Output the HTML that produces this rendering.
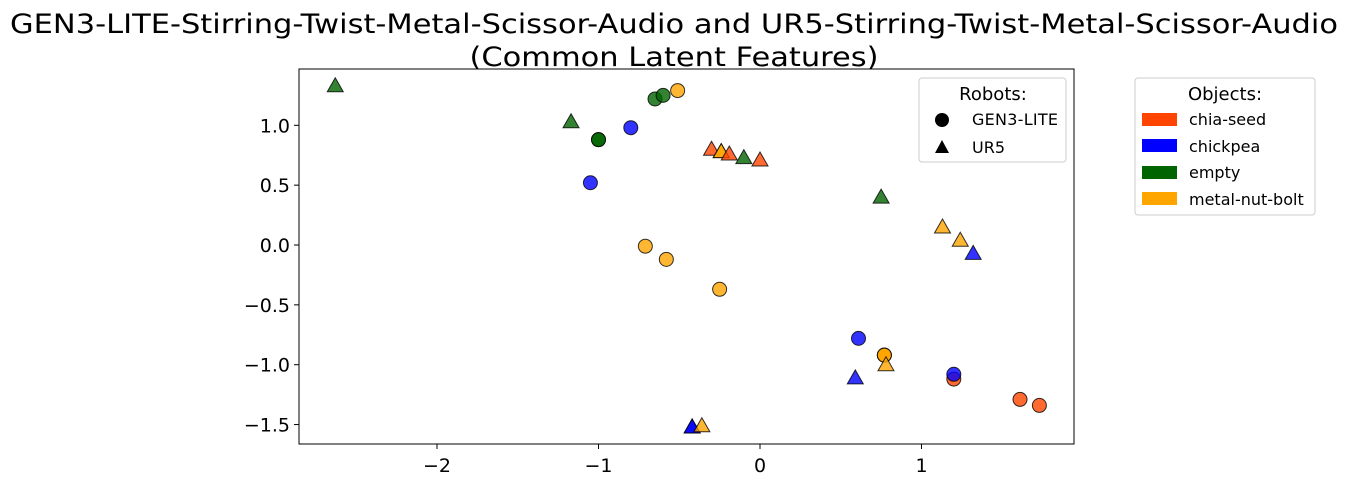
<!DOCTYPE html>
<html><head><meta charset="utf-8"><style>
body{margin:0;background:#fff;width:1348px;height:483px;overflow:hidden;font-family:"DejaVu Sans",sans-serif}
</style></head><body>
<svg width="1348" height="483" font-family="DejaVu Sans, sans-serif">
<text x="674" y="33" font-size="27" text-anchor="middle" textLength="1328" lengthAdjust="spacingAndGlyphs">GEN3-LITE-Stirring-Twist-Metal-Scissor-Audio and UR5-Stirring-Twist-Metal-Scissor-Audio</text>
<text x="674" y="66" font-size="27" text-anchor="middle" textLength="409" lengthAdjust="spacingAndGlyphs">(Common Latent Features)</text>
<g id="axes"></g>
<g id="marks"></g>
<rect x="299" y="69" width="775" height="375" fill="none" stroke="#000" stroke-width="1"/>
<g>
<rect x="919" y="78" width="147" height="84" fill="#fff" stroke="#ccc" rx="3"/>
<text x="993" y="100" font-size="18" text-anchor="middle">Robots:</text>
<circle cx="942" cy="120" r="7" fill="#000"/><text x="972" y="125" font-size="16" textLength="86">GEN3-LITE</text>
<polygon points="942,140 949,153 935,153" fill="#000"/><text x="972" y="153" font-size="16">UR5</text>
</g>
<g>
<rect x="1135" y="78" width="180" height="137" fill="#fff" stroke="#ccc" rx="3"/>
<text x="1225" y="100" font-size="18" text-anchor="middle">Objects:</text>
<rect x="1142" y="113" width="35" height="13" fill="#FF4500"/><text x="1189" y="125" font-size="16">chia-seed</text>
<rect x="1142" y="139" width="35" height="13" fill="#0000FF"/><text x="1189" y="152" font-size="16">chickpea</text>
<rect x="1142" y="166" width="35" height="13" fill="#006400"/><text x="1189" y="178" font-size="16">empty</text>
<rect x="1142" y="192" width="35" height="13" fill="#FFA500"/><text x="1189" y="205" font-size="16">metal-nut-bolt</text>
</g>
</svg>
<script>
const xTicks=[-2,-1,0,1];
const yTicks=[1.0,0.5,0.0,-0.5,-1.0,-1.5];
const yTickLabels=["1.0","0.5","0.0","−0.5","−1.0","−1.5"];
const colors={"chia-seed":"#FF4500","chickpea":"#0000FF","empty":"#006400","metal-nut-bolt":"#FFA500"};
const gen3X=[-0.65,-0.60,-1.0,-1.0,-0.51,-0.80,-1.05,-0.71,-0.58,-0.25,0.61,0.77,0.77,0.77,1.20,1.20,1.61,1.73];
const gen3Y=[1.22,1.25,0.88,0.88,1.29,0.98,0.52,-0.01,-0.12,-0.37,-0.78,-0.92,-0.92,-0.92,-1.12,-1.08,-1.29,-1.34];
const gen3Obj=["empty","empty","empty","empty","metal-nut-bolt","chickpea","chickpea","metal-nut-bolt","metal-nut-bolt","metal-nut-bolt","chickpea","metal-nut-bolt","metal-nut-bolt","metal-nut-bolt","chia-seed","chickpea","chia-seed","chia-seed"];
const ur5X=[-2.63,-1.17,-0.30,-0.24,-0.24,-0.19,-0.10,0.0,0.75,1.13,1.24,1.32,0.59,0.78,-0.42,-0.42,-0.36];
const ur5Y=[1.33,1.03,0.80,0.78,0.78,0.76,0.73,0.71,0.40,0.15,0.04,-0.07,-1.11,-1.00,-1.52,-1.52,-1.51];
const ur5Obj=["empty","empty","chia-seed","metal-nut-bolt","metal-nut-bolt","chia-seed","empty","chia-seed","empty","metal-nut-bolt","metal-nut-bolt","chickpea","chickpea","metal-nut-bolt","chickpea","chickpea","metal-nut-bolt"];
const X=v=>760+v*161.5, Y=v=>245-v*119.7;
const NS="http://www.w3.org/2000/svg";
const ax=document.getElementById('axes'), mk=document.getElementById('marks');
function mkEl(t,a,p){const e=document.createElementNS(NS,t);for(const k in a)e.setAttribute(k,a[k]);p.appendChild(e);return e;}
xTicks.forEach(v=>{
 const l=mkEl('line',{x1:X(v),x2:X(v),y1:444,y2:449,stroke:'#000'},ax);
 
 
 const t=mkEl('text',{x:X(v),y:472,'font-size':19,'text-anchor':'middle'},ax);
 t.textContent=v<0?'−'+(-v):String(v);
 
 
});
yTicks.forEach((v,i)=>{
 const l=mkEl('line',{x1:294,x2:299,y1:Y(v),y2:Y(v),stroke:'#000'},ax);
 
 
 const t=mkEl('text',{x:290,y:Y(v)+7,'font-size':19,'text-anchor':'end'},ax);
 t.textContent=yTickLabels[i];
 
 
});
gen3X.forEach((v,i)=>{
 const c=mkEl('circle',{cx:X(v),cy:Y(gen3Y[i]),r:7,fill:colors[gen3Obj[i]],'fill-opacity':0.8,stroke:'#000','stroke-opacity':0.8,'stroke-width':1},mk);
 
 
});
ur5X.forEach((v,i)=>{
 const x=X(v),y=Y(ur5Y[i]);
 const p=mkEl('polygon',{points:`${x},${y-8} ${x+8},${y+6} ${x-8},${y+6}`,fill:colors[ur5Obj[i]],'fill-opacity':0.8,stroke:'#000','stroke-opacity':0.8,'stroke-width':1},mk);
 
 
});
</script>
</body></html>
